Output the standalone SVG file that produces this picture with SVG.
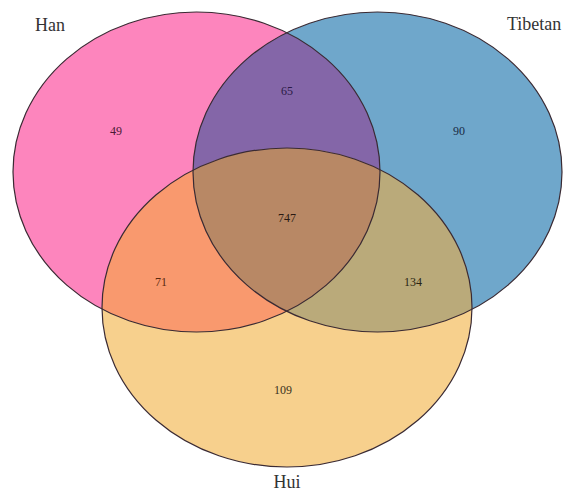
<svg xmlns="http://www.w3.org/2000/svg" width="565" height="491" viewBox="0 0 565 491">
<style>
.lbl{font-family:"Liberation Serif","Times New Roman",serif;font-size:18px;fill:#333}
.num{font-family:"Liberation Serif","Times New Roman",serif;font-size:12px;text-anchor:middle}
.edge{fill:none;stroke:#3a2a33;stroke-width:1.2}
</style>
<defs>
<ellipse id="eHan" cx="196.5" cy="172" rx="183.5" ry="160"/>
<ellipse id="eTib" cx="377.5" cy="172" rx="184.5" ry="160"/>
<ellipse id="eHui" cx="287" cy="307.5" rx="185" ry="159.5"/>
<clipPath id="cHan"><use href="#eHan"/></clipPath>
<clipPath id="cTib"><use href="#eTib"/></clipPath>
</defs>
<rect width="565" height="491" fill="#ffffff"/>
<g id="han"><use href="#eHan" fill="#fd85bd"/></g>
<g id="tibetan"><use href="#eTib" fill="#6fa7cb"/></g>
<g id="hui"><use href="#eHui" fill="#f7d08d"/></g>
<g id="overlaps">
<use href="#eTib" fill="#8466a8" clip-path="url(#cHan)"/>
<use href="#eHui" fill="#f9996e" clip-path="url(#cHan)"/>
<use href="#eHui" fill="#baaa7a" clip-path="url(#cTib)"/>
<g clip-path="url(#cTib)"><use href="#eHui" fill="#b88865" clip-path="url(#cHan)"/></g>
</g>
<g id="connectors">
<use href="#eHan" class="edge"/>
<use href="#eTib" class="edge"/>
<use href="#eHui" class="edge"/>
</g>
<g id="labels">
<text class="lbl" x="35" y="31">Han</text>
<text class="lbl" x="507" y="30">Tibetan</text>
<text class="lbl" x="287" y="488" text-anchor="middle">Hui</text>
</g>
<g id="counts">
<text class="num" x="116" y="135" fill="#4a1a35">49</text>
<text class="num" x="287" y="95" fill="#2a1a45">65</text>
<text class="num" x="459" y="135" fill="#1a2a45">90</text>
<text class="num" x="287" y="222" fill="#2a1a12">747</text>
<text class="num" x="161" y="286" fill="#5a2a10">71</text>
<text class="num" x="413" y="286" fill="#2a2512">134</text>
<text class="num" x="283" y="394" fill="#3a3020">109</text>
</g>
</svg>
